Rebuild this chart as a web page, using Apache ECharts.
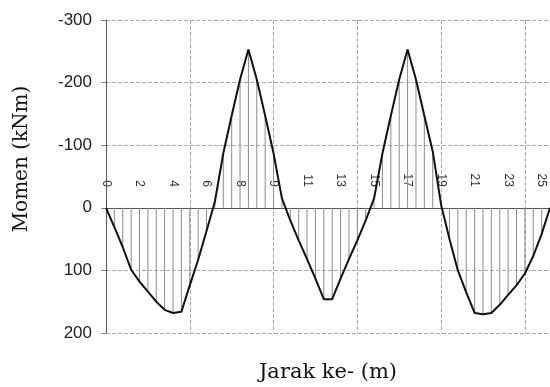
<!DOCTYPE html>
<html>
<head>
<meta charset="utf-8">
<script src="https://cdn.jsdelivr.net/npm/echarts@6/dist/echarts.min.js"></script>
<style>
html,body{margin:0;padding:0;background:#fff;}
#chart{width:550px;height:387px;}
</style>
</head>
<body>
<div id="chart"></div>
<script>
// distance along the beam (m) at each computed point
const distances = [
  "0","0.5","1","1.5","2","2.5","3","3.5","4","4.5","5","5.5","6","6.5","7","7.5","8","8.5",
  "8.95","9.39","9.84","10.29","10.74","11.18","11.63","12.08","12.53","12.97","13.42","13.87",
  "14.32","14.76","15.21","15.66","16.11","16.55","17",
  "17.5","18","18.5","19","19.5","20","20.5","21","21.5","22","22.5","23","23.5","24","24.5","25","25.5"
];
// bending moment (kNm) at each point
const moments = [
  0, 31, 63, 99, 118, 134, 150, 163, 168, 166, 124, 83, 37, -10, -87, -147, -205, -253,
  -205, -147, -87, -15, 20, 52, 82, 113, 146, 146, 113, 82, 52, 20, -15, -87, -147, -205, -253,
  -205, -147, -90, -5, 50, 100, 135, 168, 170, 168, 155, 139, 124, 105, 77, 42, 0
];
const yTicks = { min: -300, max: 200, step: 100 };
const xName = "Jarak ke- (m)";
const yName = "Momen (kNm)";

const gridTop = 20, gridBottom = 54, chartH = 387;
// pixel distance from grid top down to the zero line (where the distance labels sit)
const zeroOffset = (chartH - gridTop - gridBottom) * (0 - yTicks.min) / (yTicks.max - yTicks.min);

const chart = echarts.init(document.getElementById('chart'), null, {renderer: 'canvas'});
chart.setOption({
  animation: false,
  backgroundColor: '#fff',
  grid: { left: 106, right: 0, top: gridTop, bottom: gridBottom, containLabel: false, outerBoundsMode: 'none' },
  xAxis: [
    {
      type: 'category',
      data: distances,
      boundaryGap: false,
      position: 'top',
      offset: -zeroOffset,
      axisLine: { onZero: false, lineStyle: { color: '#555', width: 1 } },
      axisTick: { show: false },
      axisLabel: {
        interval: (i) => i % 4 === 0,
        rotate: 90,
        margin: 21,
        fontSize: 12,
        color: '#333',
        fontFamily: 'Liberation Sans, Arial, sans-serif',
        formatter: (v) => String(Math.floor(parseFloat(v)))
      },
      splitLine: {
        show: true,
        interval: (i) => i % 10 === 0,
        lineStyle: { color: '#aaa', type: 'dashed', width: 1 }
      }
    },
    {
      type: 'category',
      data: distances,
      boundaryGap: false,
      position: 'bottom',
      axisLine: { show: false, onZero: false },
      axisTick: { show: false },
      axisLabel: { show: false },
      splitLine: { show: false },
      name: xName,
      nameLocation: 'middle',
      nameGap: 29,
      nameTextStyle: { fontFamily: 'DejaVu Serif, serif', fontSize: 21, color: '#111' }
    }
  ],
  yAxis: {
    type: 'value',
    inverse: true,
    min: yTicks.min,
    max: yTicks.max,
    interval: yTicks.step,
    axisLine: { show: true, lineStyle: { color: '#555', width: 1 } },
    axisTick: { show: true, length: 5, lineStyle: { color: '#888' } },
    axisLabel: { fontSize: 17, color: '#222', margin: 14, fontFamily: 'Liberation Sans, Arial, sans-serif' },
    splitLine: { show: true, lineStyle: { color: '#aaa', type: 'dashed', width: 1 } },
    name: yName,
    nameLocation: 'middle',
    nameRotate: 90,
    nameGap: 74,
    nameTextStyle: { fontFamily: 'DejaVu Serif, serif', fontSize: 20, color: '#111', padding: [0, 0, 0, 35] }
  },
  series: [
    {
      type: 'bar',
      data: moments,
      barWidth: 1,
      itemStyle: { color: '#8c8c8c' },
      silent: true,
      z: 1
    },
    {
      type: 'line',
      data: moments,
      symbol: 'none',
      smooth: false,
      lineStyle: { color: '#111', width: 2 },
      z: 3
    }
  ]
});
</script>
</body>
</html>
